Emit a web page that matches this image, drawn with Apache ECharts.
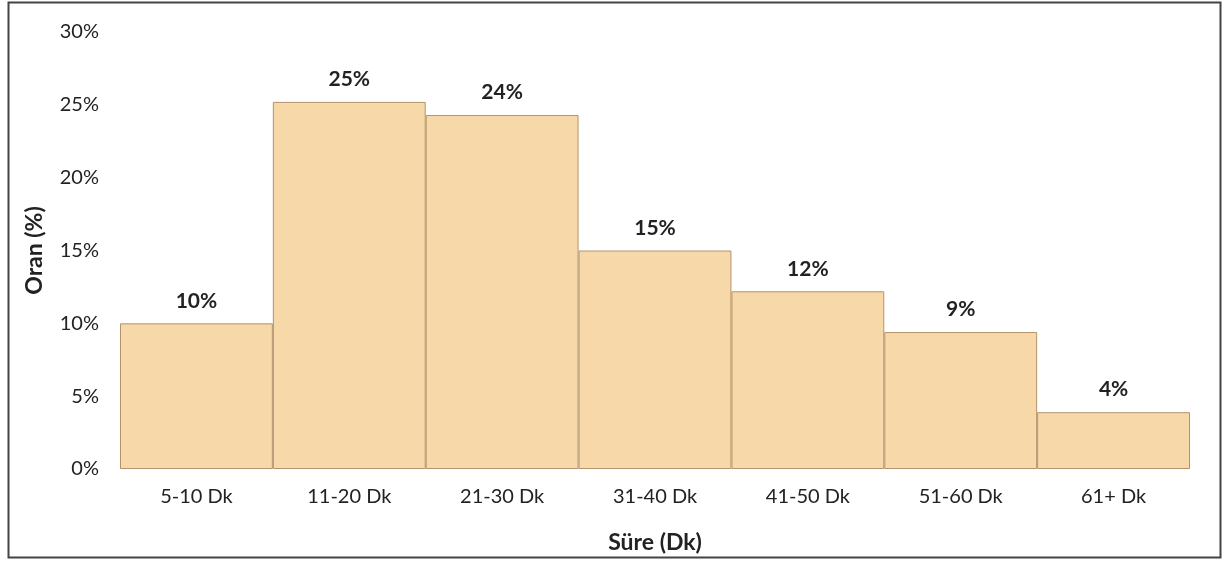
<!DOCTYPE html>
<html><head><meta charset="utf-8">
<script src="https://cdn.jsdelivr.net/npm/echarts@6/dist/echarts.min.js"></script>
<style>html,body{margin:0;padding:0;background:#fff}#c{width:1228px;height:570px}</style>
</head><body><div id="c"></div>
<script>
const categories = ['5-10 Dk','11-20 Dk','21-30 Dk','31-40 Dk','41-50 Dk','51-60 Dk','61+ Dk'];
const values = [10.0, 25.2, 24.3, 15.0, 12.2, 9.4, 3.9];
const yTicks = [0, 5, 10, 15, 20, 25, 30];
const chart = echarts.init(document.getElementById('c'));
const font = 'Lato, "Open Sans", sans-serif';
chart.setOption({
  animation: false,
  textStyle: {fontFamily: font},
  graphic: [{type:'rect', shape:{x:8.5,y:2.5,width:1212,height:555}, style:{fill:'none', stroke:'#444', lineWidth:2}, z:100}],
  grid: {left:120, right:38, top:32, bottom:101},
  xAxis: {type:'category', data:categories, axisLine:{show:false}, axisTick:{show:false},
    axisLabel:{fontSize:20, color:'#222', margin:18, fontFamily:font},
    name:'Süre (Dk)', nameLocation:'middle', nameGap:62,
    nameTextStyle:{fontSize:23, fontWeight:'bold', color:'#222', fontFamily:font}},
  yAxis: {type:'value', min:yTicks[0], max:yTicks[yTicks.length-1], interval:5, splitLine:{show:false},
    axisLine:{show:false}, axisTick:{show:false},
    axisLabel:{fontSize:20, color:'#222', margin:21, formatter:v=>v+'%', fontFamily:font},
    name:'Oran (%)', nameLocation:'middle', nameGap:74, nameRotate:90,
    nameTextStyle:{fontSize:23, fontWeight:'bold', color:'#222', fontFamily:font}},
  series: [{type:'bar', data:values, barCategoryGap:'0%',
    itemStyle:{color:'#F7D9A9', borderColor:'#B3936C', borderWidth:1},
    label:{show:true, position:'top', distance:12, fontSize:21, fontWeight:'bold', color:'#222',
      fontFamily:font, formatter:p=>Math.round(p.value)+'%'}}]
});
</script></body></html>
